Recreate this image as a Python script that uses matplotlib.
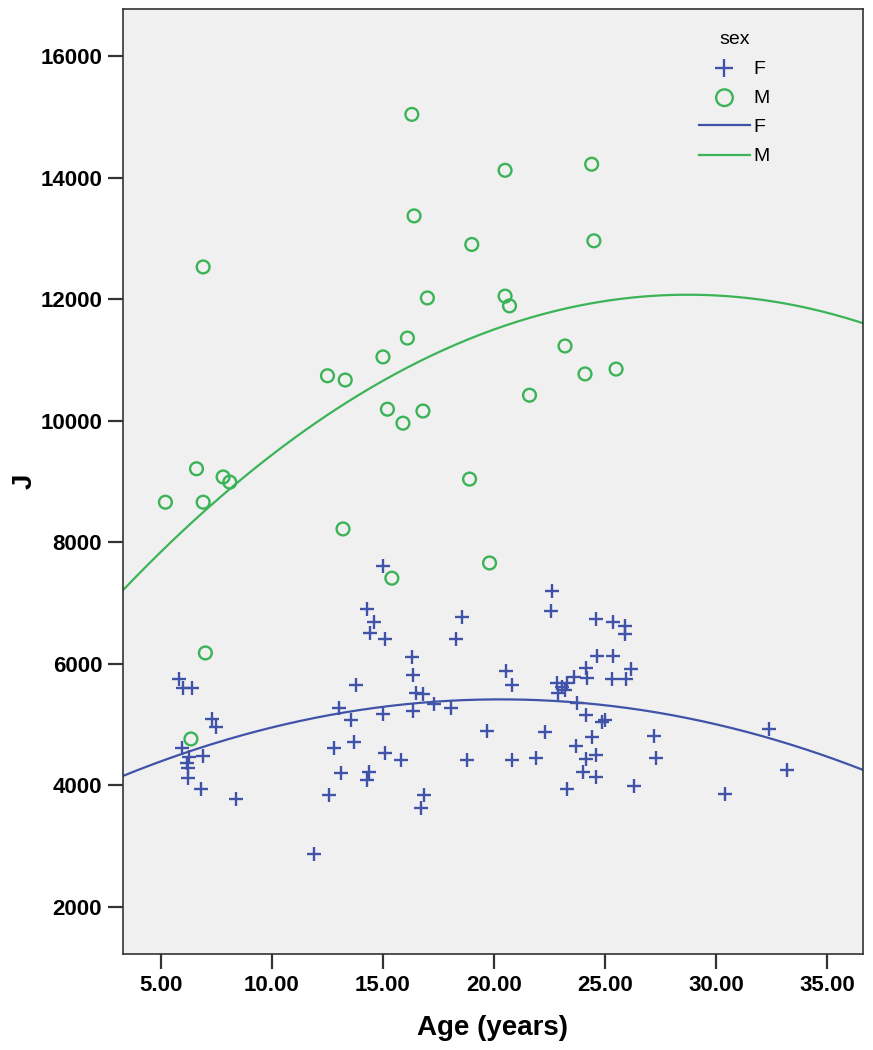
import numpy as np
import matplotlib
matplotlib.use("Agg")
import matplotlib.pyplot as plt

plt.rcParams['font.family'] = ['Liberation Sans', 'DejaVu Sans']

# values
female_age = [15.0, 14.3, 14.6, 14.4, 15.1, 18.3, 16.3, 16.35, 16.5, 16.8,
              13.8, 5.8, 6.0, 6.4, 7.3, 7.5, 13.0, 13.55, 15.0, 16.35,
              17.3, 18.05, 5.95, 6.25, 6.9, 6.15, 6.2, 6.2, 6.8, 8.4,
              12.8, 13.7, 15.1, 15.8, 13.1, 14.35, 14.3, 12.55, 16.85, 16.7,
              11.9, 22.6, 22.55, 18.55, 24.6, 25.35, 25.9, 25.9, 24.65, 25.35,
              26.15, 25.95, 25.3, 24.2, 24.15, 23.6, 23.3, 23.05, 22.85, 22.9,
              23.2, 20.55, 20.8, 23.75, 24.15, 24.85, 25.0, 19.7, 22.3, 24.4,
              27.2, 32.4, 23.7, 24.6, 24.15, 18.8, 20.8, 21.9, 27.3, 24.0,
              24.6, 33.2, 23.3, 26.3, 30.4]
female_j = [7610, 6900, 6690, 6510, 6410, 6410, 6110, 5820, 5520, 5500,
            5650, 5750, 5600, 5600, 5090, 4960, 5275, 5080, 5180, 5225,
            5340, 5275, 4620, 4470, 4485, 4370, 4290, 4120, 3940, 3780,
            4620, 4715, 4530, 4420, 4205, 4220, 4090, 3845, 3845, 3630,
            2875, 7200, 6870, 6770, 6740, 6690, 6620, 6490, 6130, 6130,
            5915, 5750, 5750, 5770, 5930, 5785, 5690, 5620, 5690, 5520,
            5570, 5880, 5650, 5355, 5160, 5045, 5080, 4895, 4880, 4800,
            4815, 4930, 4650, 4500, 4435, 4420, 4420, 4450, 4450, 4220,
            4140, 4255, 3940, 3990, 3860]

male_age = [16.3, 20.5, 24.4, 16.4, 24.5, 19.0, 6.9, 17.0, 20.5, 20.7,
            16.1, 23.2, 15.0, 12.5, 13.3, 24.1, 25.5, 21.6, 16.8, 18.9,
            19.8, 15.2, 15.9, 6.6, 7.8, 8.1, 5.2, 6.9, 13.2, 15.4,
            7.0, 6.35]
male_j = [15040, 14120, 14220, 13370, 12960, 12900, 12530, 12020, 12050, 11890,
          11360, 11230, 11050, 10740, 10670, 10770, 10850, 10420, 10160, 9040,
          7660, 10190, 9960, 9210, 9075, 8990, 8660, 8660, 8220, 7410,
          6180, 4765]

x_ticks = [5, 10, 15, 20, 25, 30, 35]
y_ticks = [2000, 4000, 6000, 8000, 10000, 12000, 14000, 16000]

blue = '#4053a8'
green = '#3bb357'

fig = plt.figure(figsize=(8.73, 10.5), dpi=100)
ax = fig.add_axes([0.1409, 0.0914, 0.8476, 0.9])
ax.set_facecolor('#f0f0f0')

ax.set_xlim(3.29, 36.62)
ax.set_ylim(1227, 16773)

# quadratic fit lines per group
xs = np.linspace(3.29, 36.62, 300)
f_fit = np.polyfit(female_age, female_j, 2)
m_fit = np.polyfit(male_age, male_j, 2)

pf = ax.scatter(female_age, female_j, marker='+', s=100, c=blue, linewidths=1.7, zorder=3)
pm = ax.scatter(male_age, male_j, marker='o', s=85, facecolors='none', edgecolors=green,
                linewidths=1.7, zorder=3)
lf, = ax.plot(xs, np.polyval(f_fit, xs), color=blue, lw=1.6, zorder=2)
lm, = ax.plot(xs, np.polyval(m_fit, xs), color=green, lw=1.6, zorder=2)

ax.set_xticks(x_ticks)
ax.set_xticklabels(['%.2f' % v for v in x_ticks])
ax.set_yticks(y_ticks)
ax.tick_params(length=11, width=1.6, labelsize=16, pad=4, color='#333333')
for lab in ax.get_xticklabels() + ax.get_yticklabels():
    lab.set_fontweight('heavy')
for sp in ax.spines.values():
    sp.set_linewidth(1.2)
    sp.set_color('#333333')

ax.set_xlabel('Age (years)', fontsize=20, fontweight='bold')
ax.set_ylabel('J', fontsize=20, fontweight='bold')
ax.xaxis.set_label_coords(0.5, -0.064)
ax.yaxis.set_label_coords(-0.115, 0.5)

leg = ax.legend([pf, pm, lf, lm], ['F', 'M', 'F', 'M'], title='sex',
                loc='upper left', bbox_to_anchor=(0.755, 0.995), frameon=False,
                fontsize=14, title_fontsize=14, handlelength=2.6, markerscale=1.3,
                handletextpad=0.2, labelspacing=0.6)

fig.savefig('out.png', dpi=100)
